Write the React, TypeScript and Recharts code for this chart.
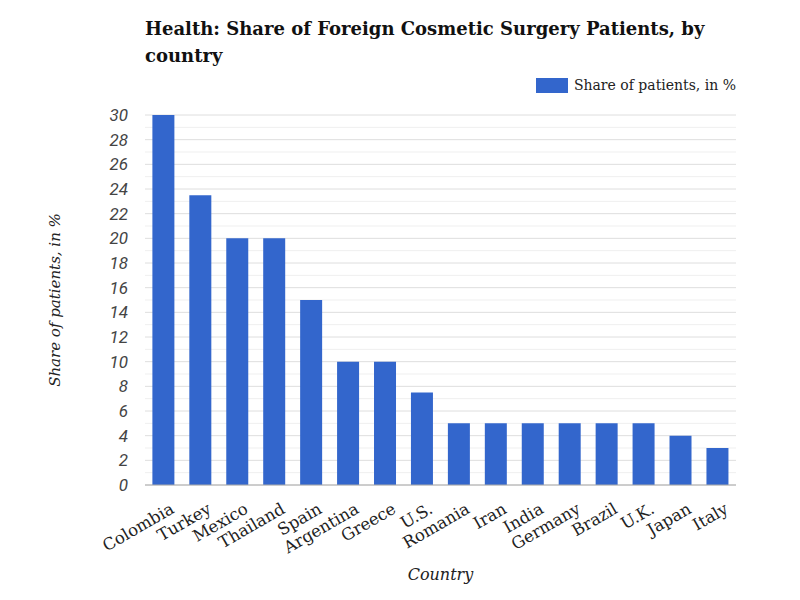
import React from 'react'
import {
  BarChart,
  Bar,
  XAxis,
  YAxis,
  CartesianGrid,
  Legend,
  Label,
} from 'recharts'

const countries = [
  'Colombia', 'Turkey', 'Mexico', 'Thailand', 'Spain', 'Argentina', 'Greece', 'U.S.',
  'Romania', 'Iran', 'India', 'Germany', 'Brazil', 'U.K.', 'Japan', 'Italy',
]
const shares = [30, 23.5, 20, 20, 15, 10, 10, 7.5, 5, 5, 5, 5, 5, 5, 4, 3]
const yTicks = [
  0, 1, 2, 3, 4, 5, 6, 7, 8, 9, 10, 11, 12, 13, 14, 15,
  16, 17, 18, 19, 20, 21, 22, 23, 24, 25, 26, 27, 28, 29, 30,
]
const seriesName = 'Share of patients, in %'

const data = countries.map((name, i) => ({ name, share: shares[i] }))

const SERIF = '"DejaVu Serif", serif'
const BLUE = '#3366cc'

function YTick(props: any) {
  const { x, y, payload } = props
  if (payload.value % 2 !== 0) return null
  return (
    <text
      x={x - 9}
      y={y}
      dy="0.36em"
      textAnchor="end"
      fontFamily="Roboto, sans-serif"
      fontStyle="italic"
      fontSize={17}
      fill="#444"
    >
      {payload.value}
    </text>
  )
}

function XTick(props: any) {
  const { x, y, payload } = props
  return (
    <g transform={`translate(${x + 6},${y + 9})`}>
      <text
        x={0}
        y={0}
        dy="0.71em"
        textAnchor="end"
        transform="rotate(-30)"
        fontFamily={SERIF}
        fontSize={16.5}
        fill="#222"
      >
        {payload.value}
      </text>
    </g>
  )
}

function gridLine(props: any) {
  const { x1, x2, y1, y2, index } = props
  const major = yTicks[index] % 2 === 0
  return (
    <line
      key={`g-${index}`}
      x1={x1}
      x2={x2}
      y1={y1}
      y2={y2}
      stroke={major ? '#dedede' : '#efefef'}
      strokeWidth={1}
    />
  )
}

function LegendBox() {
  return (
    <div style={{ display: 'flex', alignItems: 'center', fontFamily: SERIF, fontSize: 14, color: '#222' }}>
      <span style={{ display: 'inline-block', width: 32, height: 15, background: BLUE, marginRight: 6 }} />
      {seriesName}
    </div>
  )
}

export default function App() {
  return (
    <div style={{ position: 'absolute', left: 0, top: 0, width: 800, height: 600, background: '#fff' }}>
      <div
        style={{
          position: 'absolute',
          left: 145,
          top: 15,
          fontFamily: SERIF,
          fontWeight: 'bold',
          fontSize: 18,
          lineHeight: '27px',
          color: '#111',
        }}
      >
        Health: Share of Foreign Cosmetic Surgery Patients, by
        <br />
        country
      </div>
      <BarChart
        width={800}
        height={600}
        data={data}
        margin={{ top: 95, right: 64, bottom: 0, left: 0 }}
        barCategoryGap="20%"
      >
        <CartesianGrid vertical={false} horizontal={gridLine} />
        <Legend
          verticalAlign="top"
          align="right"
          height={20}
          content={<LegendBox />}
          wrapperStyle={{ top: 77, right: 64, left: 'auto', width: 'auto' }}
        />
        <XAxis
          dataKey="name"
          interval={0}
          height={115}
          tick={<XTick />}
          tickLine={false}
          axisLine={{ stroke: '#aaa' }}
        >
          <Label
            value="Country"
            position="insideBottom"
            offset={20}
            style={{ fontFamily: SERIF, fontStyle: 'italic', fontSize: 16, fill: '#222' }}
          />
        </XAxis>
        <YAxis
          width={145}
          domain={[0, 30]}
          ticks={yTicks}
          interval={0}
          tick={<YTick />}
          tickLine={false}
          axisLine={false}
        >
          <Label
            value={seriesName}
            angle={-90}
            position="insideLeft"
            offset={55}
            style={{ textAnchor: 'middle', fontFamily: SERIF, fontStyle: 'italic', fontSize: 15, fill: '#222' }}
          />
        </YAxis>
        <Bar dataKey="share" name={seriesName} fill={BLUE} isAnimationActive={false} />
      </BarChart>
    </div>
  )
}
